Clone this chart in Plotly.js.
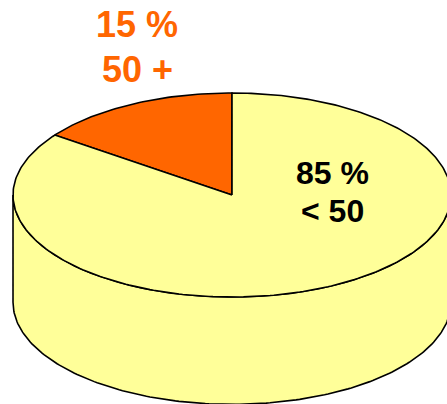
<!DOCTYPE html>
<html>
<head>
<meta charset="utf-8">
<script src="https://cdn.plot.ly/plotly-3.0.1.min.js"></script>
<style>html,body{margin:0;padding:0;background:#fff;}#chart{width:447px;height:404px;}</style>
</head>
<body>
<div id="chart"></div>
<script>
// Data
const labels = ['50 +', '< 50'];
const values = [15, 85];
const percentText = ['15 %', '85 %'];
const sliceColors = ['#FF6600', '#FFFF99'];
const labelColors = ['#FF6600', '#000000'];
const labelSizes = [36, 32];

// Geometry of the 3D pie (unit radius, tilt & depth)
const tilt = 0.466;
const depth = 0.49;
const startAngle = 90; // degrees, counter-clockwise
const N = 180;

function pt(tDeg, dy) {
  const t = tDeg * Math.PI / 180;
  return [Math.cos(t), tilt * Math.sin(t) - (dy || 0)];
}

const traces = [];
const lineStyle = {color: '#000000', width: 1.6};

// cylinder side (front half)
{
  const xs = [], ys = [];
  for (let i = 0; i <= N; i++) { const p = pt(180 + 180 * i / N, 0); xs.push(p[0]); ys.push(p[1]); }
  for (let i = N; i >= 0; i--) { const p = pt(180 + 180 * i / N, depth); xs.push(p[0]); ys.push(p[1]); }
  xs.push(xs[0]); ys.push(ys[0]);
  traces.push({type: 'scatter', mode: 'lines', x: xs, y: ys, fill: 'toself',
    fillcolor: sliceColors[1], line: lineStyle, hoverinfo: 'skip', showlegend: false});
}

// top slices
const total = values.reduce((a, b) => a + b, 0);
let cum = 0;
values.forEach((v, i) => {
  const a0 = startAngle + 360 * cum / total;
  const a1 = startAngle + 360 * (cum + v) / total;
  cum += v;
  const xs = [0], ys = [0];
  const n = Math.max(8, Math.round(N * v / 50));
  for (let k = 0; k <= n; k++) { const p = pt(a0 + (a1 - a0) * k / n, 0); xs.push(p[0]); ys.push(p[1]); }
  xs.push(0); ys.push(0);
  traces.push({type: 'scatter', mode: 'lines', x: xs, y: ys, fill: 'toself',
    fillcolor: sliceColors[i], line: lineStyle, hoverinfo: 'skip', showlegend: false, name: labels[i]});
});

// label line positions: [x, y of percent line, y of label line]
const labelPos = [[-0.432, 0.778, 0.575], [0.459, 0.102, -0.071]];
const annotations = [];
values.forEach((v, i) => {
  const font = {family: 'Liberation Sans, Arial, sans-serif', size: labelSizes[i], color: labelColors[i], weight: 'bold'};
  annotations.push({x: labelPos[i][0], y: labelPos[i][1], xref: 'x', yref: 'y', text: percentText[i],
    showarrow: false, xanchor: 'center', yanchor: 'middle', font: font});
  annotations.push({x: labelPos[i][0], y: labelPos[i][2], xref: 'x', yref: 'y', text: labels[i],
    showarrow: false, xanchor: 'center', yanchor: 'middle', font: font});
});

const layout = {
  width: 447, height: 404,
  margin: {l: 0, r: 0, t: 0, b: 0},
  paper_bgcolor: '#ffffff', plot_bgcolor: '#ffffff',
  xaxis: {range: [-1.0594, 0.9817], visible: false, fixedrange: true},
  yaxis: {range: [-0.9543, 0.8904], visible: false, fixedrange: true},
  showlegend: false,
  annotations: annotations
};

Plotly.newPlot('chart', traces, layout, {displayModeBar: false, staticPlot: true});
</script>
</body>
</html>
